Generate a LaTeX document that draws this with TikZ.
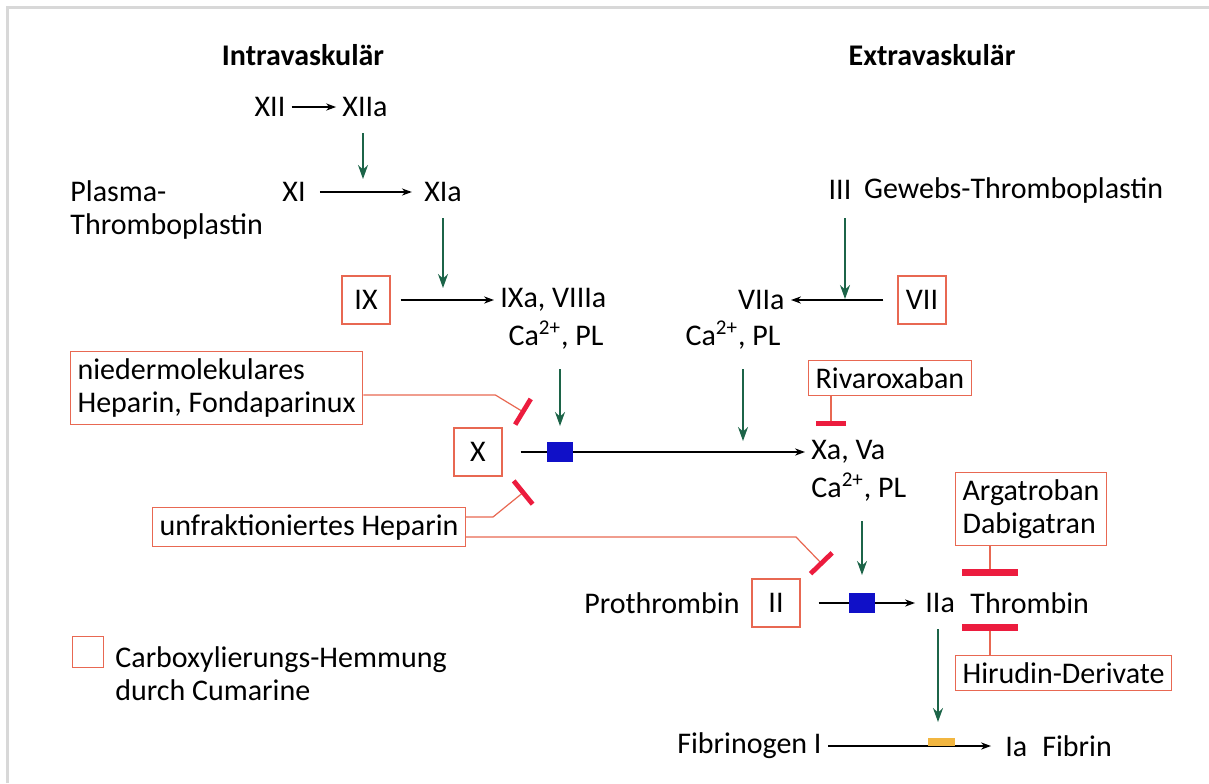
\documentclass[tikz,border=0pt]{standalone}
\usepackage{fontspec}
\setmainfont{Carlito}
\usetikzlibrary{arrows.meta}

\definecolor{boxred}{RGB}{232,104,82}
\definecolor{barred}{RGB}{236,28,62}
\definecolor{catgreen}{RGB}{28,100,72}
\definecolor{convblue}{RGB}{16,16,200}
\definecolor{lysyellow}{RGB}{242,182,64}
\definecolor{framegray}{RGB}{216,216,216}

\begin{document}
\begin{tikzpicture}[x=0.5pt, y=-0.5pt,
  every node/.style={font=\fontsize{15}{16.5}\selectfont, inner sep=3pt},
  title/.style={font=\fontsize{15}{18}\selectfont\bfseries},
  cbox/.style={draw=boxred, line width=0.6pt, minimum width=24pt, minimum height=24pt},
  dbox/.style={draw=boxred, line width=0.6pt, align=left, inner sep=3.5pt},
  conv/.style={fill=convblue, minimum width=13pt, minimum height=10pt, inner sep=0pt},
  act/.style={-{Stealth[length=5pt,width=3.6pt]}, line width=0.6pt},
  cat/.style={draw=catgreen, -{Stealth[length=7pt,width=5pt]}, line width=0.7pt},
  inh/.style={draw=boxred, line width=0.6pt, -{Bar[width=15pt, line width=2.4pt, color=barred]}},
  inhw/.style={draw=boxred, line width=0.6pt, -{Bar[width=28pt, line width=3.4pt, color=barred]}}]
\useasboundingbox (0,0) rectangle (1209,783);
\draw[framegray, line width=1.5pt] (7,783) -- (7,7) -- (1209,7);

% headings
\node[title] (intra) at (303,55) {Intravaskulär};
\node[title] (extra) at (932,55) {Extravaskulär};

% intrinsic path
\node (f12) at (270,107) {XII};
\node (f12a) at (365,107) {XIIa};
\draw[act] (f12) -- (f12a);
\node[anchor=west, align=left] (plasma) at (64,210) {Plasma-\\Thromboplastin};
\node (f11) at (294,192) {XI};
\node (f11a) at (443,192) {XIa};
\draw[act, shorten <=4pt, shorten >=3pt] (f11) -- (f11a);
\coordinate (k0) at (363,179);
\draw[cat, shorten <=5pt] (f12a.south -| k0) -- (k0);

\node[cbox] (f9) at (366,300) {IX};
\node[anchor=west] (f9a) at (494,300) {IXa, VIIIa};
\node (ca1) at (556,335) {Ca\textsuperscript{2+}, PL};
\draw[act, shorten <=5pt] (f9) -- (f9a);
\coordinate (k1) at (443,288);
\draw[cat, shorten <=5pt] (f11a.south -| k1) -- (k1);

% extrinsic path
\node (f3) at (840,190) {III};
\node[anchor=west] (gewebs) at (f3.east) {Gewebs-Thromboplastin};
\node[cbox] (f7) at (922,300) {VII};
\node[anchor=east] (f7a) at (791,300) {VIIa};
\node (ca2) at (733,335) {Ca\textsuperscript{2+}, PL};
\draw[act, shorten <=7pt] (f7) -- (f7a);
\coordinate (k3) at (845,299);
\draw[cat, shorten <=6pt] (f3.south -| k3) -- (k3);

% factor X
\node[cbox] (f10) at (478,452) {X};
\node[conv] (conv1) at (560,452) {};
\node[anchor=west] (f10a) at (805,452) {Xa, Va};
\node[anchor=west] (ca3) at (805,487) {Ca\textsuperscript{2+}, PL};
\draw[line width=0.6pt, shorten <=9pt] (f10) -- (conv1);
\draw[act] (conv1) -- (f10a);
\coordinate (k2) at (560,426);
\draw[cat, shorten <=7pt] (ca1.south -| k2) -- (k2);
\coordinate (k4) at (743,441);
\draw[cat, shorten <=7pt] (ca2.south -| k4) -- (k4);

% prothrombin
\node[anchor=east] (prothr) at (746,603) {Prothrombin};
\node[cbox] (f2) at (776,603) {II};
\node[conv] (conv2) at (862,603) {};
\node[anchor=west] (f2a) at (919,603) {IIa};
\node[anchor=west] (thromb) at (964,603) {Thrombin};
\draw[line width=0.6pt, shorten <=9pt] (f2) -- (conv2);
\draw[act, shorten >=2pt] (conv2) -- (f2a);
\coordinate (k5) at (862,575);
\draw[cat, shorten <=7pt] (ca3.south -| k5) -- (k5);

% fibrin
\node[anchor=east] (fbg) at (828,746) {Fibrinogen I};
\node[anchor=west] (fibrin) at (999,746) {Ia\enspace Fibrin};
\draw[act, shorten >=4pt] (fbg) -- (fibrin);
\node[fill=lysyellow, minimum width=13.5pt, minimum height=4pt, inner sep=0pt, anchor=south] (lys) at (941,746) {};
\coordinate (k6) at (938,722);
\draw[cat, shorten <=5pt] (f2a.south -| k6) -- (k6);

% inhibitors
\node[dbox, anchor=west] (nmh) at (70,388) {niedermolekulares\\Heparin, Fondaparinux};
\node[dbox, anchor=west] (ufh) at (152,527) {unfraktioniertes Heparin};
\node[dbox, anchor=west] (riva) at (808,378) {Rivaroxaban};
\node[dbox, anchor=west] (arga) at (955,509) {Argatroban\\Dabigatran};
\node[dbox, anchor=west] (hir) at (955,673) {Hirudin-Derivate};

\coordinate (b1) at (525,413);
\coordinate (b2) at (525,491);
\coordinate (b3) at (823,565);
\coordinate (b4) at (831,426);
\coordinate (b5) at (990,576);
\coordinate (b6) at (990,624);
\draw[inh] ([yshift=-3.5pt]nmh.east) -- ++(132,0) -- (b1);
\draw[inh] ([yshift=5pt]ufh.east) -- ++(27,0) -- (b2);
\draw[inh] ([yshift=-5pt]ufh.east) -- ++(330,0) -- (b3);
\draw[inh] (riva.south -| b4) -- (b4);
\draw[inhw] (arga.south -| b5) -- (b5);
\draw[inhw] (hir.north -| b6) -- (b6);

% legend
\node[cbox, minimum width=15.5pt, minimum height=15.5pt] (legbox) at (88,652) {};
\node[anchor=north west, align=left] (legtext) at (109,640) {Carboxylierungs-Hemmung\\durch Cumarine};
\end{tikzpicture}
\end{document}
